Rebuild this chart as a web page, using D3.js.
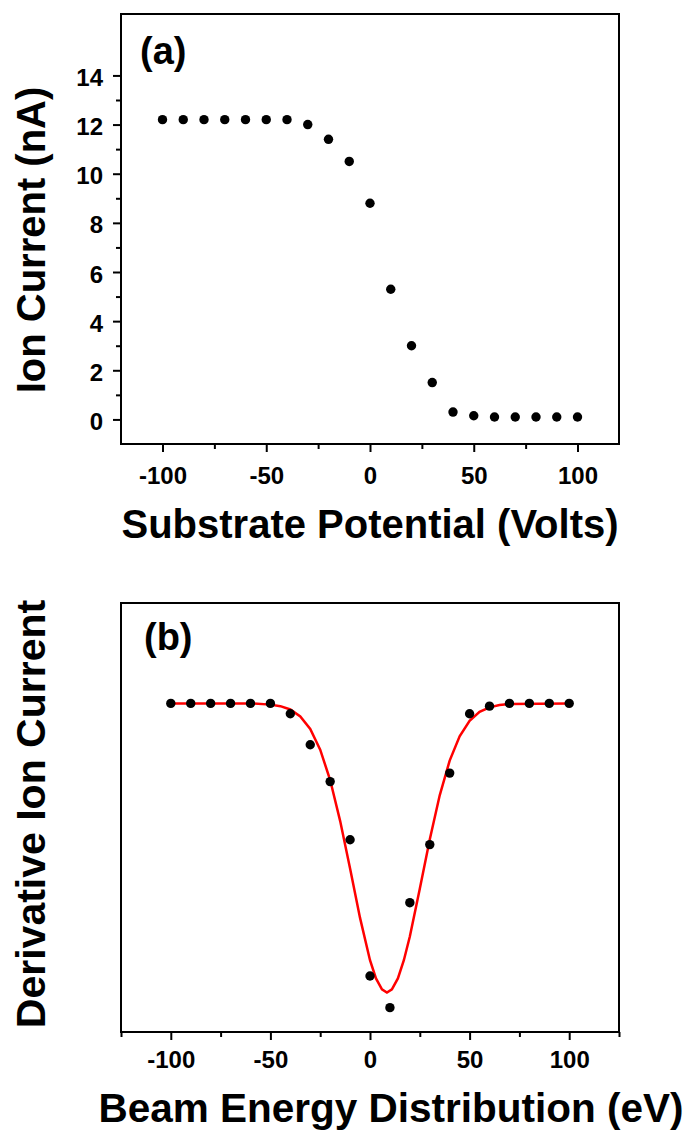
<!DOCTYPE html>
<html>
<head>
<meta charset="utf-8">
<script src="https://cdn.jsdelivr.net/npm/d3@7"></script>
<style>
  html, body { margin: 0; padding: 0; background: #fff; }
  text { font-family: "Liberation Sans", Arial, sans-serif; font-weight: bold; fill: #000; }
</style>
</head>
<body>
<div id="chart"></div>
<script>
// panel (a): ion current vs substrate potential
const potential = [-100, -90, -80, -70, -60, -50, -40, -30, -20, -10, 0, 10, 20, 30, 40, 50, 60, 70, 80, 90, 100];
const ionCurrent = [12.2, 12.2, 12.2, 12.2, 12.2, 12.2, 12.2, 12.0, 11.4, 10.5, 8.8, 5.3, 3.0, 1.5, 0.3, 0.15, 0.1, 0.1, 0.1, 0.1, 0.1];
const yTicksA = [0, 2, 4, 6, 8, 10, 12, 14];
const yMinorA = [1, 3, 5, 7, 9, 11, 13];

// panel (b): derivative (arbitrary units), measured points + fitted curve
const energy = [-100, -90, -80, -70, -60, -50, -40, -30, -20, -10, 0, 10, 20, 30, 40, 50, 60, 70, 80, 90, 100];
const derivative = [0, 0, 0, 0, 0, 0, -0.034, -0.136, -0.257, -0.448, -0.896, -1.0, -0.655, -0.464, -0.229, -0.034, -0.009, 0, 0, 0, 0];
const fitEnergy = [-100, -60, -50, -45, -40, -35, -30, -25, -20, -15, -10, -5, 0, 3, 6, 8.5, 11, 14, 17, 20, 25, 30, 35, 40, 45, 50, 55, 60, 65, 70, 100];
const fitValue = [0, 0, -0.004, -0.009, -0.02, -0.043, -0.084, -0.152, -0.252, -0.386, -0.543, -0.705, -0.844, -0.904, -0.94, -0.95, -0.94, -0.904, -0.844, -0.766, -0.609, -0.447, -0.302, -0.188, -0.108, -0.057, -0.028, -0.013, -0.005, -0.002, 0];

const xTicks = [-100, -50, 0, 50, 100];

const W = 687, H = 1136;
const svg = d3.select('#chart').append('svg')
  .attr('width', W)
  .attr('height', H);

// plain hyphen for negatives, like the original
const fmt = d => String(d);

function panel(opts) {
  const { x, y, box } = opts;
  const g = svg.append('g');

  const xAxis = d3.axisBottom(x).tickValues(xTicks).tickSize(8).tickPadding(opts.xPad).tickFormat(fmt);
  const xAxisG = g.append('g')
    .attr('transform', `translate(0,${box.bottom})`)
    .call(xAxis);
  xAxisG.select('.domain').remove();
  xAxisG.selectAll('line').attr('stroke', '#000').attr('stroke-width', 2);
  xAxisG.selectAll('text').attr('font-size', 24);

  const xm = g.append('g').attr('transform', `translate(0,${box.bottom})`)
    .call(d3.axisBottom(x).tickValues(opts.xMinor).tickSize(5).tickFormat(''));
  xm.select('.domain').remove();
  xm.selectAll('line').attr('stroke', '#000').attr('stroke-width', 2);

  if (opts.yTicks) {
    const yAxis = d3.axisLeft(y).tickValues(opts.yTicks).tickSize(8).tickPadding(10).tickFormat(fmt);
    const yAxisG = g.append('g')
      .attr('transform', `translate(${box.left},0)`)
      .call(yAxis);
    yAxisG.select('.domain').remove();
    yAxisG.selectAll('line').attr('stroke', '#000').attr('stroke-width', 2);
    yAxisG.selectAll('text').attr('font-size', 24).attr('dy', '0.42em');

    const ym = g.append('g').attr('transform', `translate(${box.left},0)`)
      .call(d3.axisLeft(y).tickValues(opts.yMinor).tickSize(5).tickFormat(''));
    ym.select('.domain').remove();
    ym.selectAll('line').attr('stroke', '#000').attr('stroke-width', 2);
  }

  g.append('rect')
    .attr('x', box.left)
    .attr('y', box.top)
    .attr('width', box.right - box.left)
    .attr('height', box.bottom - box.top)
    .attr('fill', 'none')
    .attr('stroke', '#000')
    .attr('stroke-width', 2);

  // titles
  g.append('text')
    .attr('x', (box.left + box.right) / 2 + opts.xTitleShift)
    .attr('y', opts.xTitleY)
    .attr('text-anchor', 'middle')
    .attr('font-size', opts.xTitleSize)
    .text(opts.xTitle);

  g.append('text')
    .attr('transform', `translate(45,${opts.yTitleCy}) rotate(-90)`)
    .attr('text-anchor', 'middle')
    .attr('font-size', opts.yTitleSize)
    .text(opts.yTitle);

  g.append('text')
    .attr('x', opts.tag[0])
    .attr('y', opts.tag[1])
    .attr('font-size', 38)
    .text(opts.tagText);

  return g;
}

// ---- panel (a)
const boxA = { left: 121, right: 619, top: 14, bottom: 444 };
const xA = d3.scaleLinear().domain([-120, 120]).range([boxA.left, boxA.right]);
const yA = d3.scaleLinear().domain([-1, 16.5]).range([boxA.bottom, boxA.top]);

const gA = panel({
  x: xA, y: yA, box: boxA,
  xMinor: [-75, -25, 25, 75], xPad: 15,
  yTicks: yTicksA, yMinor: yMinorA,
  xTitle: 'Substrate Potential (Volts)', xTitleY: 538, xTitleShift: 0, xTitleSize: 40,
  yTitle: 'Ion Current (nA)', yTitleCy: 240, yTitleSize: 40,
  tag: [140, 64], tagText: '(a)'
});

gA.append('g').selectAll('circle')
  .data(potential.map((v, i) => [v, ionCurrent[i]]))
  .join('circle')
  .attr('cx', d => xA(d[0]))
  .attr('cy', d => yA(d[1]))
  .attr('r', 4.7)
  .attr('fill', '#000');

// ---- panel (b)
const boxB = { left: 121, right: 619, top: 603, bottom: 1032 };
const xB = d3.scaleLinear().domain([-125, 125]).range([boxB.left, boxB.right]);
const yB = d3.scaleLinear().domain([-1.08, 0.33]).range([boxB.bottom, boxB.top]);

const gB = panel({
  x: xB, y: yB, box: boxB,
  xMinor: [-125, -75, -25, 25, 75, 125], xPad: 11,
  yTicks: null,
  xTitle: 'Beam Energy Distribution (eV)', xTitleY: 1122, xTitleShift: 21, xTitleSize: 40.5,
  yTitle: 'Derivative Ion Current', yTitleCy: 814, yTitleSize: 41,
  tag: [144, 650], tagText: '(b)'
});

const fitLine = d3.line()
  .x(d => xB(d[0]))
  .y(d => yB(d[1]));

gB.append('path')
  .datum(fitEnergy.map((v, i) => [v, fitValue[i]]))
  .attr('fill', 'none')
  .attr('stroke', '#ff0000')
  .attr('stroke-width', 2.5)
  .attr('d', fitLine);

gB.append('g').selectAll('circle')
  .data(energy.map((v, i) => [v, derivative[i]]))
  .join('circle')
  .attr('cx', d => xB(d[0]))
  .attr('cy', d => yB(d[1]))
  .attr('r', 4.7)
  .attr('fill', '#000');
</script>
</body>
</html>
